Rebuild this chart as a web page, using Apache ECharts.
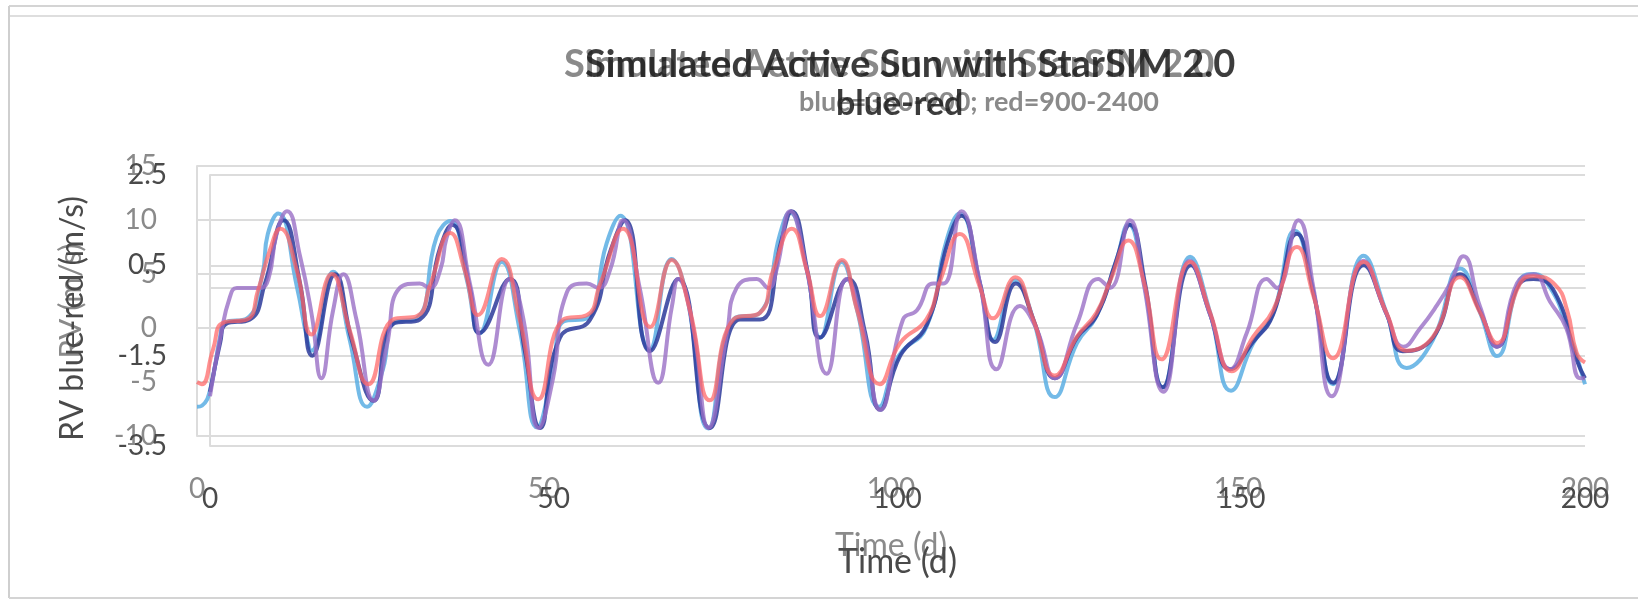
<!DOCTYPE html>
<html>
<head>
<meta charset="utf-8">
<script src="https://cdn.jsdelivr.net/npm/echarts@6/dist/echarts.min.js"></script>
<style>
html, body { margin: 0; padding: 0; background: #fff; }
#chart { width: 1638px; height: 606px; }
</style>
</head>
<body>
<div id="chart"></div>
<script>
// chart A (grey): blue band and red band RV, left axis -10..15
var blueBand = [
    [0,-7.3],[0.7,-7.2],[1.9,-5.7],[3.3,-0.9],[4.0,0.5],[7.2,0.9],[9.4,4.9],[10.2,8.7],[11.7,10.6],
    [14.4,3.8],[15.8,-0.8],[16.5,-2.1],[19.6,5.2],[22.0,-1.1],[24.5,-7.3],[26.8,-3.8],[28.3,0.5],
    [31.7,0.9],[34.5,8.4],[36.5,9.9],[38.9,4.4],[40.7,-0.5],[43.9,6.1],[46.5,-0.2],[49.0,-9.2],
    [51.3,-3.8],[52.8,0.6],[56.2,0.9],[59.0,7.8],[61.0,10.4],[65.2,-2.0],[68.4,6.4],[70.6,2.9],
    [73.7,-9.3],[77.3,0.8],[81.1,1.4],[84.0,8.7],[85.4,10.7],[87.9,5.3],[89.8,-0.9],[92.9,6.1],
    [95.1,1.7],[98.3,-7.3],[101.1,-2.6],[105.1,0.1],[108.0,8.1],[109.9,10.6],[112.8,4.1],[114.7,-1.1],
    [117.9,4.4],[120.5,0.8],[123.6,-6.4],[126.8,-1.4],[129.6,1.1],[132.5,6.3],[134.2,9.6],[136.4,4.4],
    [139.2,-5.5],[143.1,6.6],[146.0,1.4],[149.0,-5.8],[152.2,-1.4],[155.1,1.4],[158.2,9.0],[160.9,3.2],
    [163.7,-5.2],[168.1,6.7],[171.4,1.4],[174.3,-3.7],[178.1,-1.1],[182.0,5.5],[184.9,1.4],[187.3,-2.6],
    [190.6,4.4],[192.6,5.0],[195.0,3.7],[197.4,0.1],[200,-5.2]
];
var redBand = [
    [0,-5.0],[0.7,-5.2],[2.3,-2.0],[3.8,0.5],[7.2,0.8],[8.8,3.5],[10.5,7.2],[12.0,9.2],[14.4,5.3],
    [16.5,-0.6],[19.4,5.0],[22.0,-0.2],[24.7,-5.2],[28.3,0.8],[31.7,1.1],[33.6,4.0],[36.5,8.8],
    [38.6,5.3],[40.5,1.2],[43.9,6.4],[46.5,0.8],[49.2,-6.6],[52.8,0.8],[56.2,1.2],[58.1,4.1],
    [61.4,9.2],[65.3,0.1],[68.4,6.3],[71.0,1.7],[73.9,-6.7],[77.3,0.8],[81.1,1.4],[83.0,5.3],
    [85.7,9.2],[87.9,5.3],[89.8,1.1],[92.9,6.3],[95.1,1.7],[98.4,-5.2],[101.3,-1.4],[105.1,0.8],
    [107.1,4.4],[109.9,8.7],[112.8,3.8],[114.7,0.9],[117.9,4.7],[120.5,0.8],[123.6,-4.4],[126.8,-0.8],
    [129.6,1.4],[131.6,4.4],[134.2,8.1],[136.4,4.4],[139.0,-2.9],[143.1,6.1],[146.0,1.4],[149.1,-4.0],
    [152.2,-0.8],[155.1,1.7],[158.5,7.5],[160.9,2.9],[163.7,-2.8],[168.1,6.1],[171.4,1.4],[174.3,-2.1],
    [178.1,-0.8],[182.0,4.7],[184.9,1.4],[187.3,-1.4],[190.6,4.1],[192.6,4.8],[195.7,4.0],[197.4,1.7],
    [198.8,-2.3],[200,-3.2]
];
// chart B (dark): overlaid chart, axis -3.5..2.5
var darkBlue = [
    [0,-2.3],[1.5,-1.2],[2.3,-0.8],[5.8,-0.7],[8.0,0.1],[10.7,1.5],[13.1,0.1],[14.9,-1.5],[18.2,0.3],
    [20.7,-1.2],[23.8,-2.5],[26.6,-0.8],[30.5,-0.7],[33.5,0.9],[35.2,1.4],[37.8,0.0],[39.2,-1.0],
    [43.6,0.2],[45.8,-1.4],[48.0,-3.1],[50.9,-1.1],[55.3,-0.7],[58.2,0.8],[60.4,1.5],[64.0,-1.4],
    [68.1,0.2],[72.7,-3.1],[77.1,-0.7],[80.0,-0.7],[83.2,1.1],[84.6,1.7],[87.0,0.3],[88.7,-1.1],
    [92.8,0.2],[95.3,-1.0],[97.5,-2.7],[100.4,-1.5],[104.3,-0.8],[107.3,1.0],[109.3,1.6],[112.0,0.1],
    [114.2,-1.2],[117.2,0.1],[120.0,-0.8],[122.9,-2.0],[126.1,-1.1],[129.0,-0.6],[131.8,0.6],[133.8,1.4],
    [136.0,0.1],[138.6,-2.2],[142.7,0.5],[145.5,-0.6],[148.4,-1.8],[151.7,-1.2],[154.6,-0.6],[158.1,1.2],
    [160.5,-0.1],[163.4,-2.1],[167.8,0.5],[171.2,-0.6],[173.5,-1.4],[177.9,-1.1],[181.8,0.3],[184.7,-0.5],
    [187.2,-1.3],[190.5,0.1],[192.5,0.2],[195.6,-0.1],[198.8,-1.6],[200,-2.0]
];
var purple = [
    [0,-2.4],[1.5,-1.1],[2.9,-0.2],[3.9,0.0],[5.8,0.0],[7.3,0.0],[8.5,0.2],[9.7,1.2],[11.2,1.7],
    [13.1,0.7],[14.8,-0.6],[16.2,-2.0],[17.9,-0.5],[19.4,0.3],[21.3,-0.7],[23.8,-2.5],[25.7,-1.3],
    [27.6,0.0],[30.5,0.1],[31.9,0.0],[33.5,0.4],[34.4,1.1],[35.6,1.5],[37.8,0.1],[40.5,-1.7],
    [43.6,0.2],[45.6,-0.7],[47.8,-3.1],[49.9,-2.0],[51.9,-0.1],[54.8,0.1],[56.5,0.0],[58.2,0.4],
    [60.1,1.5],[62.5,0.0],[65.2,-2.1],[67.2,-0.4],[68.1,0.2],[70.3,-0.9],[72.5,-3.1],[75.2,-1.0],
    [76.6,0.0],[79.5,0.2],[81.2,0.0],[82.4,0.4],[84.4,1.7],[86.8,0.4],[89.7,-1.9],[92.6,0.2],
    [95.0,-0.9],[97.5,-2.7],[100.8,-0.7],[102.8,-0.5],[105.2,0.1],[106.7,0.1],[109.3,1.7],[112.0,0.1],
    [114.4,-1.8],[117.8,-0.4],[120.2,-0.9],[122.9,-2.0],[126.1,-0.8],[129.2,0.2],[130.9,0.0],[133.8,1.5],
    [135.8,0.1],[138.7,-2.3],[142.5,0.6],[145.5,-0.6],[148.4,-1.8],[150.8,-1.0],[153.7,0.2],[155.2,0.0],
    [158.3,1.5],[160.5,0.0],[163.2,-2.4],[167.8,0.6],[171.2,-0.6],[173.6,-1.3],[176.0,-0.9],[178.4,-0.4],
    [180.4,0.1],[182.3,0.7],[184.7,-0.4],[187.2,-1.3],[190.1,0.1],[192.5,0.3],[194.9,-0.3],[197.3,-0.9],
    [199.3,-2.0],[200,-2.0]
];

var titleMain = 'Simulated Active Sun with StarSIM 2.0';
var subGrey = 'blue=380-900; red=900-2400';
var subDark = 'blue-red';

var grey = '#8a8a8a';
var dark = '#4a4a4a';
var font = 'Lato, "Liberation Sans", sans-serif';

var chart = echarts.init(document.getElementById('chart'));

function lineSeries(name, data, color, idx, opacity) {
    return {
        name: name,
        type: 'line',
        xAxisIndex: idx,
        yAxisIndex: idx,
        data: data,
        smooth: 0.5,
        showSymbol: false,
        symbol: 'none',
        lineStyle: { color: color, width: 4, opacity: opacity },
        silent: true
    };
}

var option = {
    animation: false,
    backgroundColor: '#ffffff',
    title: [
        { text: titleMain, left: 559, top: 41, textStyle: { fontFamily: font, fontSize: 38, fontWeight: 'bold', color: grey } },
        { text: titleMain, left: 580, top: 41, textStyle: { fontFamily: font, fontSize: 38, fontWeight: 'bold', color: '#1a1a1a', opacity: 0.85 } },
        { text: subGrey, left: 794, top: 84, textStyle: { fontFamily: font, fontSize: 27, fontWeight: 'bold', color: grey } },
        { text: subDark, left: 831, top: 82, textStyle: { fontFamily: font, fontSize: 34, fontWeight: 'bold', color: '#1a1a1a', opacity: 0.85 } }
    ],
    graphic: [
        { type: 'line', shape: { x1: 9, y1: 6, x2: 1638, y2: 6 }, style: { stroke: '#d4d4d4', lineWidth: 2 }, silent: true },
        { type: 'line', shape: { x1: 9, y1: 16, x2: 1638, y2: 16 }, style: { stroke: '#dedede', lineWidth: 2 }, silent: true },
        { type: 'line', shape: { x1: 9, y1: 6, x2: 9, y2: 598 }, style: { stroke: '#cfcfcf', lineWidth: 2 }, silent: true },
        { type: 'line', shape: { x1: 9, y1: 598, x2: 1638, y2: 598 }, style: { stroke: '#d4d4d4', lineWidth: 2 }, silent: true }
    ],
    grid: [
        { left: 197, right: 53, top: 166, bottom: 170 },
        { left: 210, right: 53, top: 175, bottom: 160 }
    ],
    xAxis: [
        {
            type: 'value', gridIndex: 0, min: 0, max: 200, interval: 50,
            name: 'Time (d)', nameLocation: 'middle', nameGap: 94,
            nameTextStyle: { fontFamily: font, fontSize: 32, color: grey },
            axisLine: { show: true, lineStyle: { color: '#dcdcdc', width: 2 } },
            axisTick: { show: false },
            splitLine: { show: false },
            axisLabel: { fontFamily: font, fontSize: 28, color: grey, margin: 39 }
        },
        {
            type: 'value', gridIndex: 1, min: 0, max: 200, interval: 50,
            name: 'Time (d)', nameLocation: 'middle', nameGap: 99,
            nameTextStyle: { fontFamily: font, fontSize: 34, color: dark },
            axisLine: { show: true, lineStyle: { color: '#dcdcdc', width: 2 } },
            axisTick: { show: false },
            splitLine: { show: false },
            axisLabel: { fontFamily: font, fontSize: 28, color: dark, margin: 39 }
        }
    ],
    yAxis: [
        {
            type: 'value', gridIndex: 0, min: -10, max: 15, interval: 5,
            name: 'RV (m/s)', nameLocation: 'middle', nameRotate: 90, nameGap: 111,
            nameTextStyle: { fontFamily: font, fontSize: 31, color: grey },
            axisLine: { show: true, lineStyle: { color: '#dcdcdc', width: 2 } },
            axisTick: { show: false },
            splitLine: { show: true, lineStyle: { color: '#dcdcdc', width: 2 } },
            axisLabel: { fontFamily: font, fontSize: 28, color: grey, margin: 40 }
        },
        {
            type: 'value', gridIndex: 1, min: -3.5, max: 2.5, interval: 2,
            name: 'RV blue-red (m/s)', nameLocation: 'middle', nameRotate: 90, nameGap: 121,
            nameTextStyle: { fontFamily: font, fontSize: 32, color: dark, padding: [0, 16, 0, 0] },
            axisLine: { show: true, lineStyle: { color: '#dcdcdc', width: 2 } },
            axisTick: { show: false },
            splitLine: { show: true, lineStyle: { color: '#dcdcdc', width: 2 } },
            axisLabel: { fontFamily: font, fontSize: 28, color: dark, margin: 43 }
        }
    ],
    series: [
        lineSeries('blue', blueBand, '#5aaee3', 0, 0.85),
        lineSeries('dark blue', darkBlue, '#2b3a9a', 1, 0.85),
        lineSeries('purple', purple, '#9a6fc6', 1, 0.8),
        lineSeries('red', redBand, '#ff6464', 0, 0.72)
    ]
};

chart.setOption(option);
</script>
</body>
</html>
